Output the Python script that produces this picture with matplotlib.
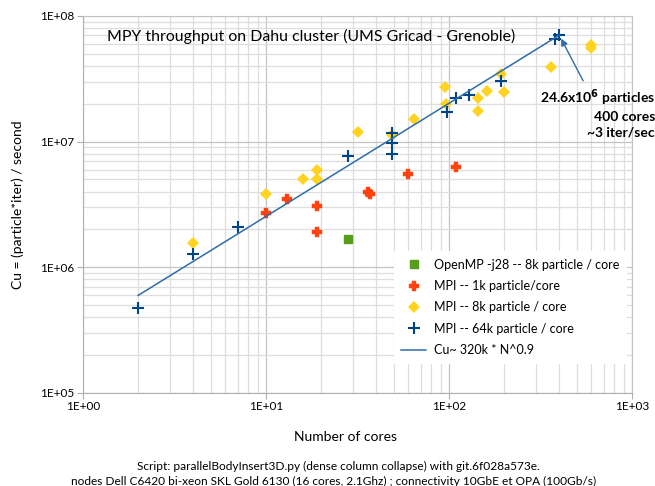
#!/usr/bin/env python3

import numpy as np
import matplotlib
matplotlib.use('Agg')
import matplotlib.pyplot as plt
from matplotlib.ticker import LogLocator, FuncFormatter, NullFormatter

# OpenMP -j28, 8k particles per core
omp_cores = [28]
omp_cu = [1.68e6]

# MPI, 1k particles per core
mpi1k_cores = [10, 13, 19, 19, 36, 37, 60, 109]
mpi1k_cu = [2.71e6, 3.5e6, 3.08e6, 1.91e6, 3.95e6, 3.8e6, 5.53e6, 6.29e6]

# MPI, 8k particles per core
mpi8k_cores = [4, 10, 16, 19, 19, 32, 49, 64, 95, 96, 144, 144, 161, 192, 200, 361, 600, 600]
mpi8k_cu = [1.56e6, 3.84e6, 5.05e6, 5.05e6, 5.96e6, 1.19e7, 1.13e7, 1.52e7, 2.72e7, 2.0e7,
            2.23e7, 1.75e7, 2.53e7, 3.46e7, 2.49e7, 3.93e7, 5.88e7, 5.56e7]

# MPI, 64k particles per core
mpi64k_cores = [2, 4, 7, 28, 49, 49, 49, 97, 109, 129, 192, 380, 400]
mpi64k_cu = [4.75e5, 1.28e6, 2.1e6, 7.7e6, 1.17e7, 9.77e6, 7.98e6, 1.72e7, 2.23e7, 2.35e7,
             3.04e7, 6.56e7, 7.06e7]

# power law fit
fit_coef = 320e3
fit_exp = 0.9
fit_range = [2, 400]


def main():
    plt.rcParams['font.family'] = ['Lato', 'DejaVu Sans']

    fig = plt.figure(figsize=(6.55, 4.86), dpi=100)
    ax = fig.add_axes([0.1267, 0.1914, 0.8382, 0.7757])

    ax.set_xscale('log')
    ax.set_yscale('log')
    ax.set_xlim(1, 1e3)
    ax.set_ylim(1e5, 1e8)

    ax.xaxis.set_major_locator(LogLocator(base=10))
    ax.yaxis.set_major_locator(LogLocator(base=10))
    ax.xaxis.set_minor_locator(LogLocator(base=10, subs=np.arange(2, 10)))
    ax.yaxis.set_minor_locator(LogLocator(base=10, subs=np.arange(2, 10)))
    fmt = FuncFormatter(lambda v, p: '1E+%02d' % int(round(np.log10(v))))
    ax.xaxis.set_major_formatter(fmt)
    ax.yaxis.set_major_formatter(fmt)
    ax.xaxis.set_minor_formatter(NullFormatter())
    ax.yaxis.set_minor_formatter(NullFormatter())

    ax.grid(which='major', color='#c4c4c4', linewidth=0.9)
    ax.grid(which='minor', color='#dedede', linewidth=0.9)
    ax.set_axisbelow(True)
    for s in ax.spines.values():
        s.set_color('#c4c4c4')
    ax.spines['left'].set_color('#b0b0b0')
    ax.spines['bottom'].set_color('#b0b0b0')
    ax.tick_params(which='major', length=4, color='#b0b0b0', labelsize=8.5, pad=2)
    ax.tick_params(which='minor', length=0)

    ax.plot(omp_cores, omp_cu, ls='none', marker='s', ms=6, color='#579D1C',
            label='OpenMP -j28 -- 8k particle / core')
    ax.plot(mpi1k_cores, mpi1k_cu, ls='none', marker='P', ms=7, mew=0.3, color='#FF420E',
            label='MPI -- 1k particle/core')
    ax.plot(mpi8k_cores, mpi8k_cu, ls='none', marker='D', ms=6, mew=0, color='#FFD320',
            label='MPI -- 8k particle / core')
    ax.plot(mpi64k_cores, mpi64k_cu, ls='none', marker='+', ms=8.5, mew=1.5, color='#004586',
            label='MPI -- 64k particle / core')

    n = np.array(fit_range, dtype=float)
    ax.plot(n, fit_coef * n ** fit_exp, color='#2f6ca8', lw=1.1,
            label='Cu~ 320k * N^0.9')

    leg = ax.legend(loc='upper left', bbox_to_anchor=(0.555, 0.393), fontsize=9,
                    frameon=True, fancybox=False, framealpha=1, edgecolor='white',
                    handlelength=2.0, handletextpad=0.6, labelspacing=0.75,
                    borderpad=0.6)
    leg.get_frame().set_linewidth(0)

    ax.text(0.044, 0.947, 'MPY throughput on Dahu cluster (UMS Gricad - Grenoble)',
            transform=ax.transAxes, fontsize=11.4, va='center', ha='left')

    # label for the 400-core run, arrow drawn separately
    ax.text(1.042, 0.81, '24.6x10$^{\\mathbf{6}}$ particles\n400 cores\n~3 iter/sec',
            transform=ax.transAxes, ha='right', va='top', fontsize=10,
            fontweight='bold', multialignment='right', linespacing=1.3, clip_on=False)
    ax.annotate('', xy=(400, 7.06e7), xytext=(0.911, 0.828), textcoords='axes fraction',
                arrowprops=dict(arrowstyle='-|>', color='#2f6ca8', lw=1.0,
                                shrinkA=0, shrinkB=3, mutation_scale=10))

    ax.set_ylabel('Cu = (particle*iter) / second', fontsize=10, labelpad=12)
    fig.text(0.528, 1 - 437 / 486, 'Number of cores', ha='center', va='center', fontsize=10)

    fig.text(0.516, 1 - 466 / 486, 'Script: parallelBodyInsert3D.py (dense column collapse) with git.6f028a573e.',
             ha='center', va='center', fontsize=8.6)
    fig.text(0.509, 1 - 481 / 486,
             'nodes Dell C6420 bi-xeon SKL Gold 6130 (16 cores, 2.1Ghz) ; connectivity 10GbE et OPA (100Gb/s)',
             ha='center', va='center', fontsize=8.6)

    plt.savefig('out.png', dpi=100)


if __name__ == "__main__":
    main()
